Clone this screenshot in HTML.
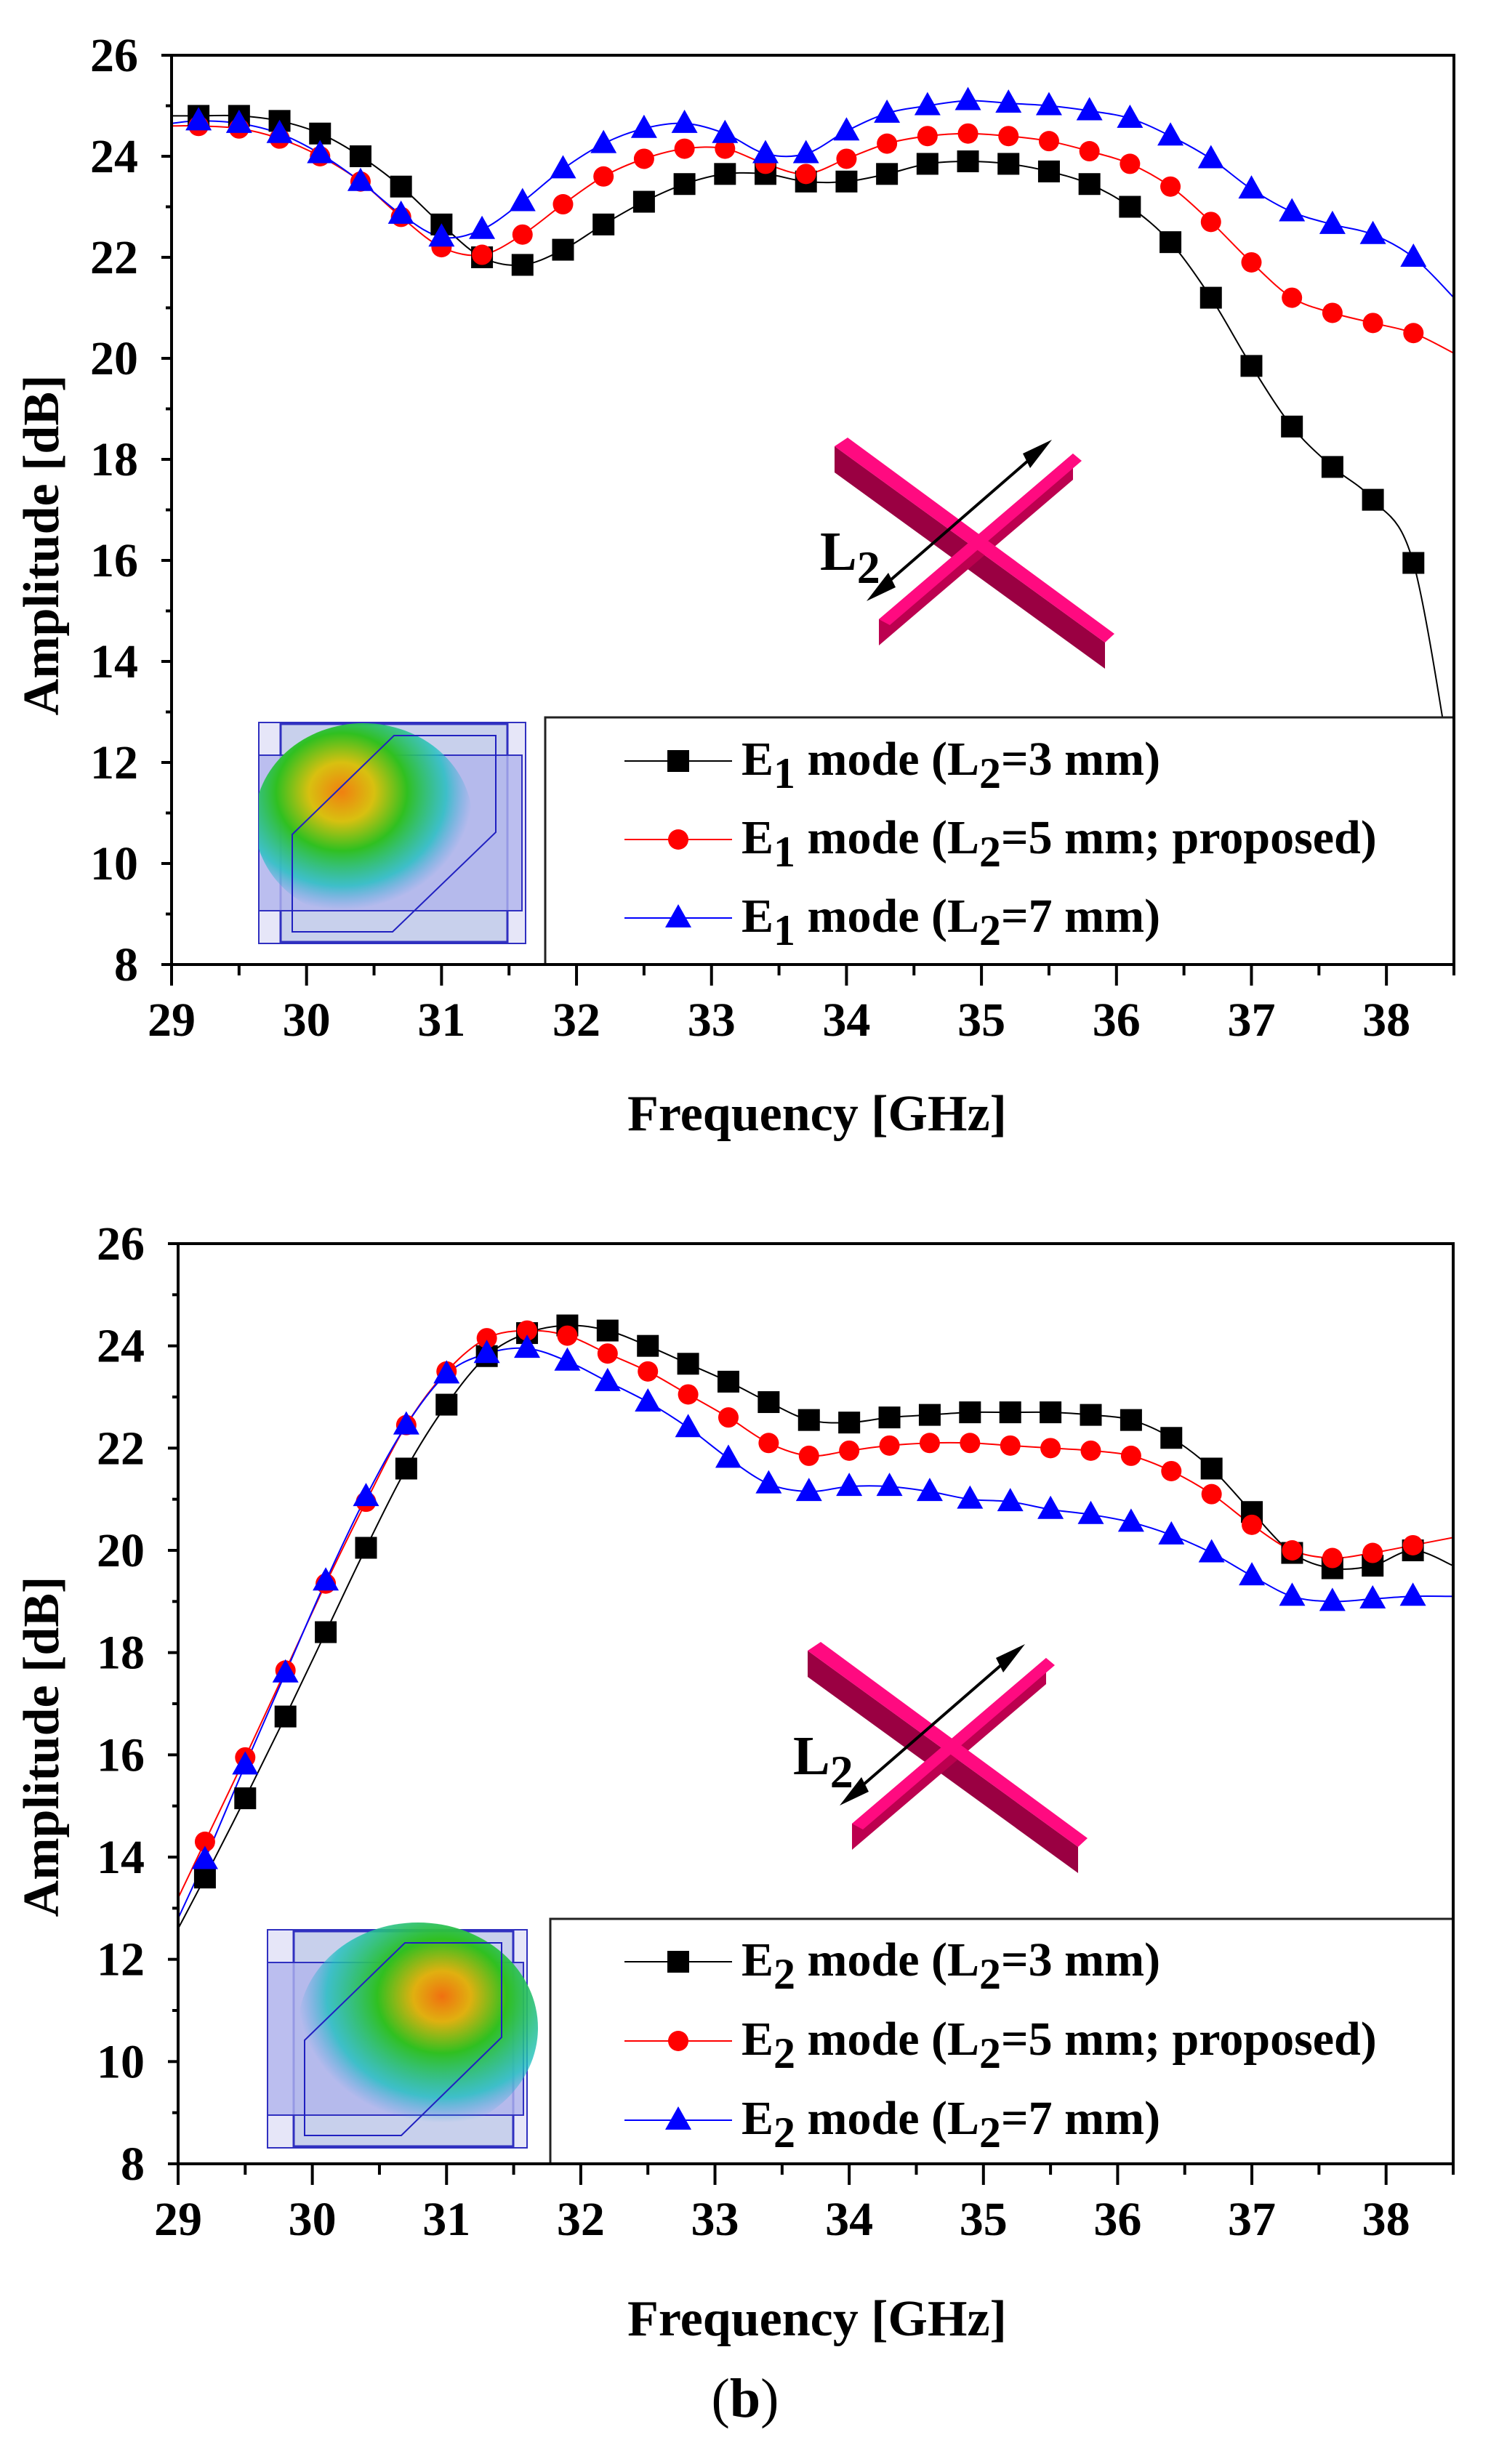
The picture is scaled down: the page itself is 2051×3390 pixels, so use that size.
<!DOCTYPE html>
<html><head><meta charset="utf-8">
<style>
html,body{margin:0;padding:0;background:#fff;}
svg{display:block;}
text,tspan{font-family:"Liberation Serif","Times New Roman",serif;}
</style></head>
<body>
<svg id="root" width="2051" height="3390" viewBox="0 0 2051 3390" xmlns="http://www.w3.org/2000/svg" font-family="Liberation Serif, serif">
<defs>
<radialGradient id="blob1" cx="0.4" cy="0.35" r="0.6">
<stop offset="0" stop-color="#f08010"/><stop offset="0.25" stop-color="#d8c010"/><stop offset="0.5" stop-color="#30c020"/><stop offset="0.8" stop-color="#20c0c0" stop-opacity="0.8"/><stop offset="1" stop-color="#40a0e0" stop-opacity="0"/>
</radialGradient>
<radialGradient id="blob2" cx="0.6" cy="0.35" r="0.6">
<stop offset="0" stop-color="#f07010"/><stop offset="0.2" stop-color="#e0b010"/><stop offset="0.45" stop-color="#30c020"/><stop offset="0.8" stop-color="#20c0c0" stop-opacity="0.8"/><stop offset="1" stop-color="#40a0e0" stop-opacity="0"/>
</radialGradient>
<clipPath id="clip1"><rect x="236" y="76" width="1764" height="1251"/></clipPath>
<clipPath id="clip2"><rect x="245" y="1711" width="1754" height="1266"/></clipPath>
<clipPath id="iclip1"><rect x="356" y="994" width="367" height="304"/></clipPath>
<clipPath id="iclip2"><rect x="368" y="2640" width="372" height="315"/></clipPath>
</defs>
<g id="chart1"></g>
<g id="chart2"></g>
<text x="1025" y="3325" font-size="76" font-family="Liberation Serif, serif" text-anchor="middle">(<tspan font-weight="bold">b</tspan>)</text>
</svg>
<script>
const freqs = [29.2,29.5,29.8,30.1,30.4,30.7,31.0,31.3,31.6,31.9,32.2,32.5,32.8,33.1,33.4,33.7,34.0,34.3,34.6,34.9,35.2,35.5,35.8,36.1,36.4,36.7,37.0,37.3,37.6,37.9,38.2];
const xTicks = [29,30,31,32,33,34,35,36,37,38];
const yTicks = [8,10,12,14,16,18,20,22,24,26];
// chart 1: E1 mode
const e1Start = [24.8,24.6,24.65];
const e1End = [11.5,20.1,21.2];
const e1L3 = [24.8,24.8,24.7,24.45,24.0,23.4,22.65,22.0,21.85,22.15,22.65,23.1,23.45,23.65,23.65,23.5,23.5,23.65,23.85,23.9,23.85,23.7,23.45,23.0,22.3,21.2,19.85,18.65,17.85,17.2,15.95];
const e1L5 = [24.6,24.55,24.35,24.0,23.5,22.8,22.2,22.05,22.45,23.05,23.6,23.95,24.15,24.15,23.85,23.65,23.95,24.25,24.4,24.45,24.4,24.3,24.1,23.85,23.4,22.7,21.9,21.2,20.9,20.7,20.5];
const e1L7 = [24.7,24.65,24.45,24.05,23.5,22.85,22.4,22.55,23.1,23.75,24.25,24.55,24.65,24.45,24.05,24.05,24.5,24.85,25.0,25.1,25.05,25.0,24.9,24.75,24.4,23.95,23.35,22.9,22.65,22.45,22.0];
// chart 2: E2 mode
const e2Start = [12.6,13.2,12.8];
const e2End = [19.7,20.25,19.1];
const e2L3 = [13.6,15.15,16.75,18.4,20.05,21.6,22.85,23.8,24.25,24.4,24.3,24.0,23.65,23.3,22.9,22.55,22.5,22.6,22.65,22.7,22.7,22.7,22.65,22.55,22.2,21.6,20.75,19.95,19.65,19.7,20.0];
const e2L5 = [14.3,15.95,17.65,19.35,20.95,22.45,23.5,24.15,24.3,24.2,23.85,23.5,23.05,22.6,22.1,21.85,21.95,22.05,22.1,22.1,22.05,22.0,21.95,21.85,21.55,21.1,20.5,20.0,19.85,19.95,20.1];
const e2L7 = [13.95,15.8,17.6,19.4,21.05,22.45,23.45,23.85,23.95,23.7,23.3,22.9,22.4,21.8,21.3,21.15,21.25,21.25,21.15,21.0,20.95,20.8,20.7,20.55,20.3,19.95,19.5,19.1,19.0,19.05,19.1];
const legendLabels = ["=3 mm)","=5 mm; proposed)","=7 mm)"];

const NS="http://www.w3.org/2000/svg";
const FF="Liberation Serif, serif";
function mk(tag, parent, attrs){const e=document.createElementNS(NS,tag);for(const k in attrs)e.setAttribute(k,attrs[k]);parent.appendChild(e);return e;}
function spline(pts){let d="M"+pts[0][0]+","+pts[0][1];for(let i=0;i<pts.length-1;i++){const p0=pts[i-1]||pts[i],p1=pts[i],p2=pts[i+1],p3=pts[i+2]||p2;const c1x=p1[0]+(p2[0]-p0[0])/6,c1y=p1[1]+(p2[1]-p0[1])/6,c2x=p2[0]-(p3[0]-p1[0])/6,c2y=p2[1]-(p3[1]-p1[1])/6;d+=" C"+c1x.toFixed(1)+","+c1y.toFixed(1)+" "+c2x.toFixed(1)+","+c2y.toFixed(1)+" "+p2[0].toFixed(1)+","+p2[1].toFixed(1);}return d;}
function marker(g,type,x,y,color){let m;if(type==="square"){m=mk("rect",g,{x:x-15,y:y-15,width:30,height:30,fill:color});}else if(type==="circle"){m=mk("circle",g,{cx:x,cy:y,r:14,fill:color});}else{m=mk("polygon",g,{points:(x)+","+(y-19)+" "+(x-18)+","+(y+13)+" "+(x+18)+","+(y+13),fill:color});}return m;}

function drawChart(g, cfg){
  const X=v=>cfg.L+(v-29)*(cfg.R-cfg.L)/9.5;
  const Y=v=>cfg.B-(v-8)*(cfg.B-cfg.T)/18;
  const ins=mk("g",g,{});
  
  
  const I=cfg.inset;
  mk("rect",ins,{x:I.x,y:I.y,width:I.w,height:I.h,fill:"#e6e6f8",stroke:"#3030c0","stroke-width":2});
  mk("rect",ins,{x:I.ix,y:I.y+2,width:I.iw,height:I.h-4,fill:"#c8d0ec",stroke:"#3030c0","stroke-width":3});
  mk("rect",ins,{x:I.x,y:I.by,width:I.w-5,height:I.bh,fill:"#b0b4ec","fill-opacity":0.8,stroke:"#3030c0","stroke-width":2});
  mk("ellipse",ins,{cx:I.cx,cy:I.cy,rx:I.rx,ry:I.ry,fill:cfg.blob,"clip-path":cfg.iclip});
  mk("polygon",ins,{points:I.poly,fill:"none",stroke:"#2020c0","stroke-width":2});
  const cols=["#000","#ff0000","#0000ff"],types=["square","circle","triangle"];
  const series=cfg.series;
  const sg=mk("g",g,{"clip-path":cfg.clip});
  series.forEach((s,i)=>{
    const pts=[[X(29),Y(cfg.start[i])]].concat(freqs.map((f,j)=>[X(f),Y(s[j])])).concat([[X(38.5),Y(cfg.end[i])]]);
    const p=mk("path",sg,{d:spline(pts),fill:"none",stroke:cols[i],"stroke-width":2});
    
    
  });
  series.forEach((s,i)=>{
    freqs.forEach((f,j)=>{
      const m=marker(sg,types[i],X(f),Y(s[j]),cols[i]);
      
      
    });
  });
  const lg=mk("g",g,{});
  
  
  mk("rect",lg,{x:cfg.legX,y:cfg.legY,width:cfg.R-cfg.legX,height:cfg.B-cfg.legY,fill:"#fff",stroke:"#222","stroke-width":3});
  legendLabels.forEach((lab,i)=>{
    const cy=cfg.legRows[i];
    const e=mk("g",lg,{});
    
    
    mk("line",e,{x1:859,y1:cy,x2:1007,y2:cy,stroke:cols[i],"stroke-width":2});
    marker(e,types[i],933,cy,cols[i]);
    const t=mk("text",e,{x:1020,y:cy+19,"font-size":66,"font-weight":"bold","font-family":FF});
    t.innerHTML='E<tspan dy="18" font-size="60">'+cfg.sub+'</tspan><tspan dy="-18"> mode (L</tspan><tspan dy="18" font-size="60">2</tspan><tspan dy="-18">'+lab+'</tspan>';
  });
  const cr=mk("g",g,{transform:"translate("+cfg.cross[0]+","+cfg.cross[1]+")"});
  
  
  mk("polygon",cr,{points:"-188,-120 184,150 184,186 -188,-84",fill:"#9a0042"});
  mk("polygon",cr,{points:"-127,118 140,-110 140,-74 -127,154",fill:"#bc004f"});
  mk("polygon",cr,{points:"-188,-120 -170,-132 197,138 184,150",fill:"#ff0a80"});
  mk("polygon",cr,{points:"-127,118 -112,126 152,-100 140,-110",fill:"#ff0a80"});
  mk("line",cr,{x1:-134,y1:84,x2:101,y2:-120,stroke:"#000","stroke-width":4});
  mk("polygon",cr,{points:"-144,93 -114,54 -104,74",fill:"#000"});
  mk("polygon",cr,{points:"111,-129 81,-90 71,-110",fill:"#000"});
  const lt=mk("text",cr,{x:-208,y:50,"font-size":76,"font-weight":"bold","font-family":FF});
  lt.innerHTML='L<tspan dy="18" font-size="64">2</tspan>';
  
  
  const ax=mk("g",g,{});
  
  
  mk("rect",ax,{x:cfg.L,y:cfg.T,width:cfg.R-cfg.L,height:cfg.B-cfg.T,fill:"none",stroke:"#000","stroke-width":4});
  yTicks.forEach(v=>{
    mk("line",ax,{x1:cfg.L-14,y1:Y(v),x2:cfg.L,y2:Y(v),stroke:"#000","stroke-width":4});
    if(v<26)mk("line",ax,{x1:cfg.L-8,y1:Y(v+1),x2:cfg.L,y2:Y(v+1),stroke:"#000","stroke-width":4});
    const t=mk("text",ax,{x:cfg.L-46,y:Y(v)+22,"font-size":66,"font-weight":"bold","text-anchor":"end","font-family":FF});
    t.textContent=v;
    
    
  });
  xTicks.forEach(v=>{
    mk("line",ax,{x1:X(v),y1:cfg.B,x2:X(v),y2:cfg.B+29,stroke:"#000","stroke-width":4});
    mk("line",ax,{x1:X(v+0.5),y1:cfg.B,x2:X(v+0.5),y2:cfg.B+15,stroke:"#000","stroke-width":4});
    const t=mk("text",ax,{x:X(v),y:cfg.B+98,"font-size":66,"font-weight":"bold","text-anchor":"middle","font-family":FF});
    t.textContent=v;
    
    
  });
  const xt=mk("text",ax,{x:1124,y:cfg.xTitleY,"font-size":70,"font-weight":"bold","text-anchor":"middle","font-family":FF});
  xt.textContent="Frequency [GHz]";
  
  
  const yt=mk("text",ax,{x:0,y:0,"font-size":70,"font-weight":"bold","text-anchor":"middle","font-family":FF,transform:"translate(80,"+cfg.yTitleY+") rotate(-90)"});
  yt.textContent="Amplitude [dB]";
  
  
}

drawChart(document.getElementById("chart1"),{L:236,R:2000,T:76,B:1327,clip:"url(#clip1)",iclip:"url(#iclip1)",series:[e1L3,e1L5,e1L7],start:e1Start,end:e1End,sub:"1",
  legX:750,legY:987,legRows:[1047,1155,1263],cross:[1336,734],xTitleY:1555,yTitleY:750,blob:"url(#blob1)",
  inset:{x:356,y:994,w:367,h:304,ix:386,iw:312,by:1039,bh:214,cx:500,cy:1130,rx:150,ry:135,poly:"402,1148 542,1012 682,1012 682,1145 540,1282 402,1282"}});
drawChart(document.getElementById("chart2"),{L:245,R:1999,T:1711,B:2977,clip:"url(#clip2)",iclip:"url(#iclip2)",series:[e2L3,e2L5,e2L7],start:e2Start,end:e2End,sub:"2",
  legX:757,legY:2640,legRows:[2699,2808,2917],cross:[1299,2391],xTitleY:3213,yTitleY:2403,blob:"url(#blob2)",
  inset:{x:368,y:2655,w:357,h:300,ix:404,iw:302,by:2700,bh:210,cx:575,cy:2790,rx:165,ry:145,poly:"419,2807 557,2673 690,2673 690,2803 552,2938 419,2938"}});
</script>
</body></html>
